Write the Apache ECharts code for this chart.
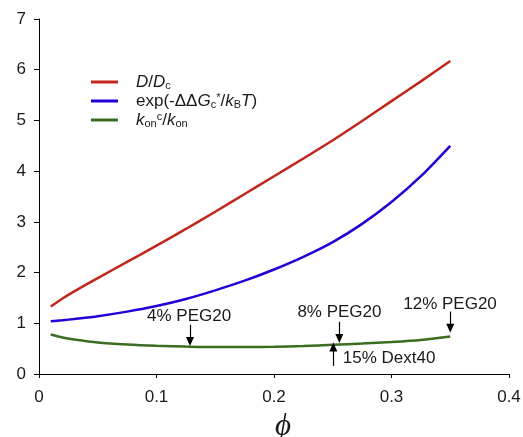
<!DOCTYPE html>
<html>
<head>
<meta charset="utf-8">
<script src="https://cdn.jsdelivr.net/npm/echarts@6/dist/echarts.min.js"></script>
<style>html,body{margin:0;padding:0;background:#fff;}#c{width:523px;height:437px;}</style>
</head>
<body>
<div id="c"></div>
<script>
// volume fraction phi
var phi = [0.01, 0.02, 0.03, 0.05, 0.075, 0.1, 0.125, 0.15, 0.175, 0.2, 0.225, 0.25, 0.275, 0.3, 0.325, 0.35];
// D/Dc
var dRatio = [1.33, 1.49, 1.63, 1.89, 2.21, 2.53, 2.86, 3.20, 3.55, 3.90, 4.25, 4.61, 4.99, 5.38, 5.77, 6.17];
// exp(-ΔΔGc*/kBT)
var expRatio = [1.04, 1.06, 1.085, 1.14, 1.23, 1.34, 1.48, 1.65, 1.84, 2.06, 2.31, 2.60, 2.96, 3.39, 3.90, 4.50];
// kon^c/kon
var konRatio = [0.78, 0.72, 0.68, 0.62, 0.58, 0.555, 0.54, 0.53, 0.53, 0.535, 0.55, 0.575, 0.60, 0.63, 0.67, 0.74];

var seriesNames = ['D/Dc', 'exp', 'kon'];
var legendLabels = {
  'D/Dc': '{i|D}/{i|D}{sub|c}',
  'exp': 'exp(-\u0394\u0394{i|G}{sub|c}{sup|*}/{i|k}{sub|B}{i|T})',
  'kon': '{i|k}{sub|on}{sup|c}/{i|k}{sub|on}'
};

// annotations (data units)
var annoLabels = ['4% PEG20', '8% PEG20', '12% PEG20', '15% Dext40'];
var annoX = [0.1285, 0.2556, 0.350, 0.2505];
var arrowFrom = [0.97, 1.03, 1.23, 0.16];
var arrowTo = [0.64, 0.70, 0.90, 0.53];
var labelX = [0.1277, 0.2557, 0.3498, 0.298];
var labelY = [1.13, 1.21, 1.38, 0.31];

var xTicks = [0, 0.1, 0.2, 0.3, 0.4];
var yTicks = [0, 1, 2, 3, 4, 5, 6, 7];

function pairs(ys) { return phi.map(function (x, i) { return [x, ys[i]]; }); }

var font = 'Liberation Sans, Arial, sans-serif';
var colors = ['#C0261C', '#2000D8', '#3A6D20'];

var arrows = annoX.map(function (x, i) {
  return [{ coord: [x, arrowFrom[i]] }, { coord: [x, arrowTo[i]] }];
});
var labels = annoLabels.map(function (t, i) {
  return { coord: [labelX[i], labelY[i]], value: t };
});

var chart = echarts.init(document.getElementById('c'), null, { renderer: 'canvas' });
chart.setOption({
  animation: false,
  backgroundColor: '#fff',
  grid: { left: 39, right: 14, top: 19, bottom: 63, containLabel: false, outerBoundsMode: 'none' },
  legend: {
    data: seriesNames,
    orient: 'vertical',
    left: 91,
    top: 73,
    padding: 0,
    itemWidth: 27,
    itemHeight: 3,
    itemGap: 1,
    icon: 'rect',
    formatter: function (n) { return legendLabels[n]; },
    textStyle: {
      fontFamily: font, fontSize: 17, color: '#1a1a1a', lineHeight: 18, padding: [0, 0, 0, 13],
      rich: {
        i: { fontStyle: 'italic', fontFamily: font, fontSize: 17, color: '#1a1a1a' },
        sub: { fontFamily: font, fontSize: 11, color: '#1a1a1a', verticalAlign: 'bottom' },
        sup: { fontFamily: font, fontSize: 11, color: '#1a1a1a', verticalAlign: 'top' }
      }
    }
  },
  xAxis: {
    type: 'value', min: 0, max: 0.4, interval: 0.1,
    axisLine: { lineStyle: { color: '#000', width: 1 } },
    axisTick: { show: true, length: 4, lineStyle: { color: '#000' } },
    splitLine: { show: false },
    axisLabel: { color: '#1a1a1a', fontFamily: font, fontSize: 17, margin: 15,
      formatter: function (v) { return v === 0 ? '0' : v.toFixed(1); } },
    name: '\u03D5', nameLocation: 'middle', nameGap: 33,
    nameTextStyle: { fontFamily: 'Liberation Serif, DejaVu Serif, serif', fontStyle: 'italic', fontSize: 31, color: '#1a1a1a', padding: [0, 0, 0, 18] }
  },
  yAxis: {
    type: 'value', min: 0, max: 7, interval: 1,
    axisLine: { show: true, lineStyle: { color: '#000', width: 1 } },
    axisTick: { show: true, length: 5, lineStyle: { color: '#000' } },
    splitLine: { show: false },
    axisLabel: { color: '#1a1a1a', fontFamily: font, fontSize: 17, margin: 13 }
  },
  series: [
    { name: 'D/Dc', type: 'line', data: pairs(dRatio), showSymbol: false, smooth: 0.25,
      lineStyle: { color: colors[0], width: 2.5 }, itemStyle: { color: colors[0] } },
    { name: 'exp', type: 'line', data: pairs(expRatio), showSymbol: false, smooth: 0.25,
      lineStyle: { color: colors[1], width: 2.5 }, itemStyle: { color: colors[1] } },
    { name: 'kon', type: 'line', data: pairs(konRatio), showSymbol: false, smooth: 0.25,
      lineStyle: { color: colors[2], width: 2.5 }, itemStyle: { color: colors[2] } },
    { name: 'annotations', type: 'line', data: [],
      markLine: {
        silent: true, symbol: ['none', 'triangle'], symbolSize: [8, 9],
        lineStyle: { color: '#000', width: 1.2, type: 'solid' },
        label: { show: false }, data: arrows
      },
      markPoint: {
        silent: true, symbol: 'rect', symbolSize: 1, itemStyle: { color: 'rgba(0,0,0,0)' },
        label: { show: true, position: 'inside', color: '#1a1a1a', fontFamily: font, fontSize: 17,
          formatter: function (p) { return p.value; } },
        data: labels
      }
    }
  ]
});
</script>
</body>
</html>
